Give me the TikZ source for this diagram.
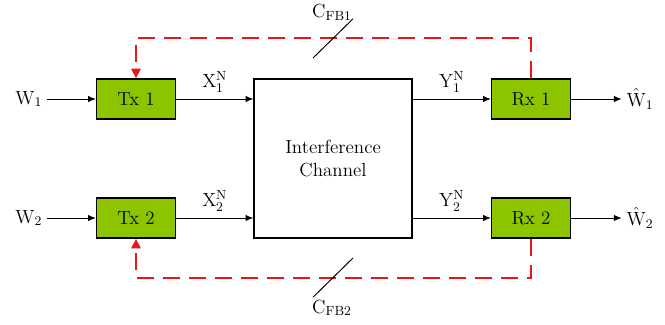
\documentclass[tikz,border=0pt]{standalone}
\usepackage{fix-cm}
\usetikzlibrary{arrows.meta,calc}
\definecolor{boxgreen}{RGB}{140,196,0}
\definecolor{fbred}{RGB}{236,20,20}
\begin{document}
\begin{tikzpicture}[font=\fontsize{13.5}{16}\selectfont,
          block/.style={draw, line width=0.9pt, fill=boxgreen,
            minimum width=1.975cm, minimum height=1cm, inner sep=0pt},
          sig/.style={line width=0.7pt, -{Latex[length=5.5pt,width=4.5pt]}},
          fb/.style={fbred, line width=1.8pt,
            dash pattern=on 12pt off 6.5pt},
          slash/.style={line width=0.7pt}]
        % canvas 665 x 324 px, 1 px = 0.025 cm
        \useasboundingbox (0,0) rectangle (16.625,8.1);
        % blocks
        \node[block] (tx1) at (3.4,5.625) {Tx 1};
        \node[block] (tx2) at (3.4,2.65) {Tx 2};
        \node[block] (rx1) at (13.275,5.625) {Rx 1};
        \node[block] (rx2) at (13.275,2.65) {Rx 2};
        \node[draw, line width=0.9pt, minimum width=3.95cm,
          minimum height=3.975cm, align=center] (ch) at (8.325,4.1375)
          {Interference\\Channel};
        % messages
        \node (w1) at (0.72,5.625) {$\mathrm{W}_1$};
        \node (w2) at (0.72,2.65) {$\mathrm{W}_2$};
        \node (wh1) at (16.0,5.625) {$\hat{\mathrm{W}}_1$};
        \node (wh2) at (16.0,2.65) {$\hat{\mathrm{W}}_2$};
        % forward signals
        \draw[sig] (w1) -- (tx1);
        \draw[sig] (w2) -- (tx2);
        \draw[sig] (tx1) -- node[above=1pt] {$\mathrm{X}_1^{\mathrm{N}}$} (ch.west |- tx1);
        \draw[sig] (tx2) -- node[above=1pt] {$\mathrm{X}_2^{\mathrm{N}}$} (ch.west |- tx2);
        \draw[sig] (ch.east |- rx1) -- node[above=1pt] {$\mathrm{Y}_1^{\mathrm{N}}$} (rx1);
        \draw[sig] (ch.east |- rx2) -- node[above=1pt] {$\mathrm{Y}_2^{\mathrm{N}}$} (rx2);
        \draw[sig] (rx1) -- (wh1);
        \draw[sig] (rx2) -- (wh2);
        % feedback links
        \coordinate (fb1) at (8.325,7.15);
        \coordinate (fb2) at (8.325,1.15);
        \draw[fb, -{Triangle[length=7pt,width=6.5pt]}] (rx1.north) |- (fb1) -| (tx1.north);
        \draw[fb, -{Triangle[length=7pt,width=6.5pt]}] (rx2.south) |- (fb2) -| (tx2.south);
        \draw[slash] ($(fb1)+(-0.5,-0.5)$) -- ($(fb1)+(0.5,0.48)$);
        \draw[slash] ($(fb2)+(-0.5,-0.48)$) -- ($(fb2)+(0.5,0.5)$);
        \node (cfb1) at (8.3,7.78) {$\mathrm{C}_{\mathrm{FB1}}$};
        \node (cfb2) at (8.3,0.4) {$\mathrm{C}_{\mathrm{FB2}}$};
      \end{tikzpicture}
\end{document}
